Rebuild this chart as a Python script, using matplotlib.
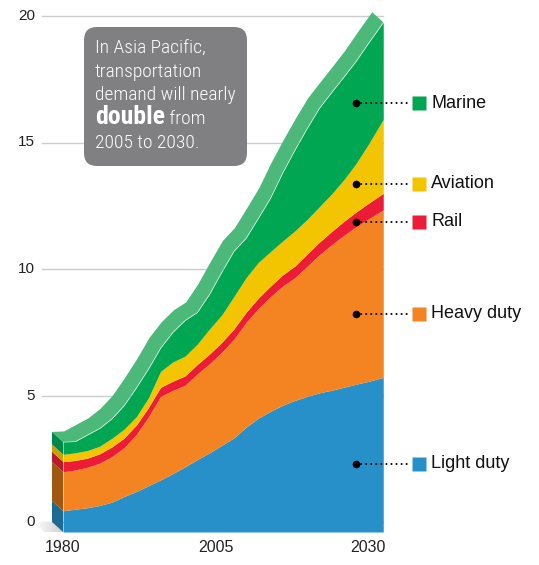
import numpy as np
import matplotlib
matplotlib.use('Agg')
import matplotlib.pyplot as plt
from matplotlib import font_manager
from matplotlib.patches import Polygon, FancyBboxPatch
from matplotlib.transforms import IdentityTransform
from matplotlib.colors import LinearSegmentedColormap

# transportation demand, Asia Pacific
years = [1980, 1982, 1984, 1986, 1988, 1990, 1992, 1994, 1996, 1998, 2000, 2002, 2004,
         2006, 2008, 2010, 2012, 2014, 2016, 2018, 2020, 2022, 2024, 2026, 2028, 2030, 2032.5]
light_duty = [0.84, 0.90, 0.96, 1.05, 1.18, 1.40, 1.60, 1.83, 2.06, 2.31, 2.58, 2.86, 3.13,
              3.42, 3.72, 4.14, 4.50, 4.77, 5.01, 5.20, 5.36, 5.50, 5.60, 5.72, 5.84, 5.95, 6.11]
heavy_duty = [1.54, 1.55, 1.60, 1.67, 1.80, 1.93, 2.25, 2.72, 3.30, 3.29, 3.22, 3.39, 3.52,
              3.68, 3.90, 4.14, 4.33, 4.53, 4.71, 4.85, 5.14, 5.45, 5.75, 6.00, 6.22, 6.42, 6.62]
rail = [0.40, 0.38, 0.36, 0.37, 0.38, 0.38, 0.37, 0.37, 0.36, 0.36, 0.37, 0.37, 0.38,
        0.39, 0.40, 0.40, 0.41, 0.42, 0.44, 0.46, 0.48, 0.50, 0.52, 0.55, 0.58, 0.61, 0.66]
aviation = [0.29, 0.30, 0.30, 0.30, 0.34, 0.35, 0.33, 0.38, 0.63, 0.76, 0.78, 0.80, 0.99,
            1.08, 1.28, 1.37, 1.41, 1.36, 1.34, 1.39, 1.37, 1.40, 1.48, 1.64, 1.91, 2.32, 2.92]
marine = [0.49, 0.45, 0.62, 0.71, 0.78, 0.94, 1.15, 1.15, 0.93, 1.18, 1.42, 1.26, 1.38,
          1.70, 1.80, 1.57, 1.75, 2.12, 2.70, 3.20, 3.60, 3.90, 4.02, 4.07, 4.05, 4.00, 3.84]

categories = ['Light duty', 'Heavy duty', 'Rail', 'Aviation', 'Marine']
x_ticks = [1980, 2005, 2030]
y_ticks = [0, 5, 10, 15, 20]

front_colors = ['#2890c9', '#f48321', '#ec1c36', '#f2c500', '#00a651']
side_colors = ['#1d6b94', '#a0570f', '#b8192c', '#c9a200', '#00884a']
top_color = '#4cb97b'

W, H = 539, 565
# pixel -> data helpers (layout only)
PX_PER_YEAR = 6.1
PX_PER_UNIT = 25.3
def px2x(px):
    return 1980 + (px - 63) / PX_PER_YEAR
def px2y(py):
    return (532 - py) / PX_PER_UNIT

dx = 11 / PX_PER_YEAR   # depth of the 3d block
dy = 10 / PX_PER_UNIT

plt.rcParams['font.family'] = ['Liberation Sans', 'DejaVu Sans']

fig = plt.figure(figsize=(W / 100, H / 100), dpi=100)
ax = fig.add_axes([0, 0, 1, 1])
ax.set_axis_off()

x = np.array(years)
stack = np.cumsum(np.vstack([light_duty, heavy_duty, rail, aviation, marine]), axis=0)
total = stack[-1]

# gridlines sit on the back plane
for v in y_ticks:
    ax.plot([px2x(42), px2x(383)], [v + dy, v + dy], color='#cccccc', lw=1, zorder=0)
    ax.text(px2x(35), v + dy, str(v), ha='right', va='center', fontsize=11, color='#222222')

for yr in x_ticks:
    ax.text(yr, px2y(548), str(yr), ha='center', va='center', fontsize=11.5, color='#222222')

# floor shadow left of the block
shadow = Polygon([(px2x(34), px2y(522)), (px2x(52), px2y(522)), (px2x(63), px2y(532)),
                  (px2x(44), px2y(532))], closed=True, fc='none', ec='none')
ax.add_patch(shadow)
grad = np.linspace(0, 1, 60).reshape(1, -1)
cmap_sh = LinearSegmentedColormap.from_list('sh', ['#ffffff', '#cfcfcf'])
im = ax.imshow(grad, extent=[px2x(34), px2x(63), px2y(532), px2y(522)], cmap=cmap_sh,
               aspect='auto', zorder=1, interpolation='bilinear')
im.set_clip_path(shadow)

# top face
top_pts = list(zip(x, total)) + list(zip(x[::-1] - dx, total[::-1] + dy))
ax.add_patch(Polygon(top_pts, closed=True, fc=top_color, ec='none', zorder=2))

# left side face
lows = np.concatenate([[0], stack[:-1, 0]])
for lo, hi, c in zip(lows, stack[:, 0], side_colors):
    ax.add_patch(Polygon([(x[0], lo), (x[0], hi), (x[0] - dx, hi + dy), (x[0] - dx, lo + dy)],
                         closed=True, fc=c, ec='none', zorder=2))

# front face
base = np.zeros_like(x, dtype=float)
for i, c in enumerate(front_colors):
    ax.fill_between(x, base, stack[i], color=c, lw=0, zorder=3)
    base = stack[i]

# labels with dotted leaders
label_y = [px2y(463.5), px2y(314), px2y(222), px2y(183.5), px2y(103)]
for name, ly, c in zip(categories, label_y, front_colors):
    ax.plot([px2x(356), px2x(411)], [ly, ly], color='black', lw=1.4,
            linestyle=(0, (0.1, 2.5)), dash_capstyle='round', zorder=4)
    ax.plot(px2x(356), ly, 'o', color='black', ms=4.5, zorder=5)
    ax.plot(px2x(418.5), ly, 's', color=c, ms=9.5, mec='none', zorder=5)
    ax.text(px2x(431), ly, name, ha='left', va='center', fontsize=13, color='#111111')

ax.set_xlim(px2x(0), px2x(W))
ax.set_ylim(px2y(H), px2y(0))

# callout box
box = FancyBboxPatch((84, H - 166), 163, 139, boxstyle='round,pad=0,rounding_size=13',
                     transform=IdentityTransform(), fc='#808083', ec='none')
fig.add_artist(box)

names = {f.name for f in font_manager.fontManager.ttflist}
narrow = [n for n in ['Roboto Condensed', 'Liberation Sans Narrow', 'DejaVu Sans Condensed'] if n in names]
if narrow:
    box_font = [narrow[0], 'DejaVu Sans']
    fs, fs_b = 14, 18.5
else:
    box_font = ['Liberation Sans', 'DejaVu Sans']
    fs, fs_b = 12, 15

lines = ['In Asia Pacific,', 'transportation', 'demand will nearly', None, '2005 to 2030.']
baselines = [54, 77, 100, 124, 148]
for txt, b in zip(lines, baselines):
    if txt is None:
        t = fig.text(95, H - b, 'double', transform=IdentityTransform(), family=box_font,
                     fontsize=fs_b, weight='bold', color='white', va='baseline')
        r = fig.canvas.get_renderer()
        w = t.get_window_extent(renderer=r).width
        fig.text(95 + w, H - b, ' from', transform=IdentityTransform(), family=box_font,
                 fontsize=fs, weight='light', color='white', va='baseline')
    else:
        fig.text(95, H - b, txt, transform=IdentityTransform(), family=box_font,
                 fontsize=fs, weight='light', color='white', va='baseline')

fig.savefig('out.png', dpi=100)
